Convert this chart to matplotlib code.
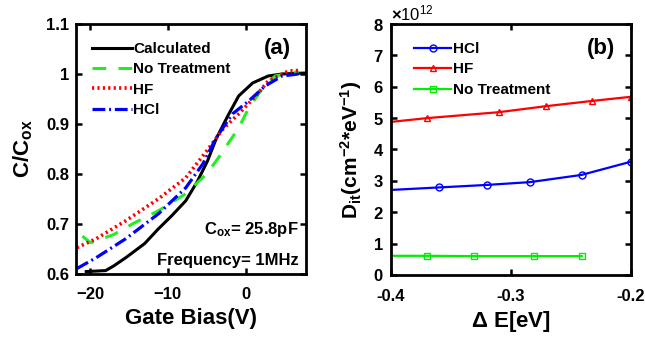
import matplotlib
matplotlib.use("Agg")
import matplotlib.pyplot as plt
from matplotlib.ticker import ScalarFormatter

plt.rcParams['font.family'] = ['Liberation Sans', 'DejaVu Sans']
plt.rcParams['font.weight'] = 'bold'
plt.rcParams['axes.labelweight'] = 'bold'
plt.rcParams['mathtext.fontset'] = 'custom'
plt.rcParams['mathtext.rm'] = 'Liberation Sans:bold'
plt.rcParams['mathtext.bf'] = 'Liberation Sans:bold'
plt.rcParams['mathtext.it'] = 'Liberation Sans:bold'

# ---- Panel (a): C/Cox vs Gate Bias ----
calc_v = [-20.5, -18.0, -17.0, -15.4, -13.0, -11.2, -9.5, -7.7, -6.2, -4.9, -3.8, -2.3, -0.9, 0.9, 2.9, 4.7, 7.8]
calc_c = [0.604, 0.606, 0.615, 0.632, 0.660, 0.690, 0.716, 0.746, 0.785, 0.826, 0.870, 0.916, 0.956, 0.982, 0.996, 1.000, 1.002]

nt_v = [-21.0, -20.2, -19.9, -17.0, -14.5, -11.2, -7.7, -5.0, -3.5, -0.9, 0.4, 2.2, 3.8, 6.8]
nt_c = [0.675, 0.665, 0.662, 0.678, 0.700, 0.726, 0.760, 0.800, 0.832, 0.892, 0.932, 0.972, 0.996, 1.005]

hf_v = [-21.7, -19.2, -15.4, -11.2, -7.7, -6.0, -4.7, -2.9, -0.9, 1.3, 2.9, 5.5, 6.8]
hf_c = [0.652, 0.670, 0.706, 0.750, 0.792, 0.826, 0.852, 0.890, 0.920, 0.956, 0.986, 1.006, 1.007]

hcl_v = [-21.7, -19.2, -15.4, -11.2, -7.7, -5.5, -3.8, -1.7, 0.4, 2.5, 4.7, 6.8]
hcl_c = [0.610, 0.632, 0.670, 0.720, 0.772, 0.820, 0.872, 0.920, 0.946, 0.976, 0.996, 1.000]

a_xticks = [-20, -10, 0]
a_yticks = [0.6, 0.7, 0.8, 0.9, 1.0, 1.1]
a_yticklabels = ['0.6', '0.7', '0.8', '0.9', '1', '1.1']

# ---- Panel (b): Dit vs Delta E ----
hcl_e = [-0.40, -0.36, -0.32, -0.284, -0.241, -0.20]
hcl_d = [2.71e12, 2.79e12, 2.87e12, 2.96e12, 3.19e12, 3.61e12]
hf_e = [-0.40, -0.37, -0.31, -0.271, -0.232, -0.20]
hf_d = [4.88e12, 5.00e12, 5.19e12, 5.38e12, 5.55e12, 5.68e12]
nt_e = [-0.40, -0.37, -0.331, -0.281, -0.241]
nt_d = [0.61e12, 0.61e12, 0.60e12, 0.60e12, 0.60e12]

b_xticks = [-0.4, -0.3, -0.2]
b_xticklabels = ['-0.4', '-0.3', '-0.2']
b_yticks = [0, 1e12, 2e12, 3e12, 4e12, 5e12, 6e12, 7e12, 8e12]

fig = plt.figure(figsize=(6.45, 3.39), dpi=100)
ax1 = fig.add_axes([0.118, 0.193, 0.357, 0.736])
ax2 = fig.add_axes([0.606, 0.189, 0.372, 0.740])

GREEN = '#22ee22'
ax1.plot(calc_v, calc_c, color='black', lw=2.2, label='Calculated')
ax1.plot(nt_v, nt_c, color=GREEN, lw=2.2, dashes=(4.5, 4.0), label='No Treatment')
ax1.plot(hf_v, hf_c, color='#ff0000', lw=2.6, dashes=(0.6, 0.9), label='HF')
ax1.plot(hcl_v, hcl_c, color='#0000ff', lw=2.3, dashes=(4, 1.2, 0.6, 1.2), label='HCl')

ax1.set_xlim(-21.8, 7.8)
ax1.set_ylim(0.6, 1.1)
ax1.set_xticks(a_xticks)
ax1.set_yticks(a_yticks)
ax1.set_yticklabels(a_yticklabels)
ax1.set_xlabel('Gate Bias(V)', fontsize=16, labelpad=4)
ax1.set_ylabel(r'C/C$_{\mathregular{ox}}$', fontsize=16, labelpad=8)
ax1.legend(loc='upper left', bbox_to_anchor=(0.03, 0.965), frameon=False,
           fontsize=11, handlelength=2.6, handletextpad=0.1,
           labelspacing=0.42, borderaxespad=0.2)
ax1.text(0.873, 0.904, '(a)', transform=ax1.transAxes, fontsize=16,
         ha='center', va='center')
ax1.text(0.965, 0.175, r'C$_{\mathregular{ox}}$= 25.8pF', transform=ax1.transAxes,
         fontsize=12, ha='right', va='center')
ax1.text(0.965, 0.052, 'Frequency= 1MHz', transform=ax1.transAxes,
         fontsize=12, ha='right', va='center')

ax2.plot(hcl_e, hcl_d, color='#0000ff', lw=1.6, marker='o', mfc='none', ms=5,
         markevery=list(range(1, len(hcl_e))), label='HCl')
ax2.plot(hf_e, hf_d, color='#ff0000', lw=1.6, marker='^', mfc='none', ms=5,
         markevery=list(range(1, len(hf_e))), label='HF')
ax2.plot(nt_e, nt_d, color='#00ee00', lw=1.6, marker='s', mfc='none', ms=4.5,
         markevery=list(range(1, len(nt_e))), label='No Treatment')
ax2.set_xlim(-0.4, -0.2)
ax2.set_ylim(0, 8e12)
ax2.set_xticks(b_xticks)
ax2.set_xticklabels(b_xticklabels)
ax2.set_yticks(b_yticks)
fmt = ScalarFormatter(useMathText=True)
fmt.set_powerlimits((0, 0))
ax2.yaxis.set_major_formatter(fmt)
ax2.yaxis.get_offset_text().set_fontsize(12)
ax2.yaxis.get_offset_text().set_fontweight('normal')
ax2.set_xlabel(r'$\Delta$ E[eV]', fontsize=16, labelpad=4)
ax2.set_ylabel(r'D$_{\mathregular{it}}$(cm$^{\mathregular{-2}}$*eV$^{\mathregular{-1}}$)',
               fontsize=15, labelpad=6)
ax2.legend(loc='upper left', bbox_to_anchor=(0.06, 0.965), frameon=False,
           fontsize=11, handlelength=2.4, handletextpad=0.1,
           labelspacing=0.42, borderaxespad=0.2)
ax2.text(0.875, 0.904, '(b)', transform=ax2.transAxes, fontsize=16,
         ha='center', va='center')

for ax in (ax1, ax2):
    for sp in ax.spines.values():
        sp.set_linewidth(2.0)
    ax.tick_params(direction='in', top=True, right=True, length=4, width=1.8,
                   labelsize=12)
    ax.tick_params(axis='x', pad=10)
    ax.tick_params(axis='y', pad=5)

fig.savefig('out.png', dpi=100)
